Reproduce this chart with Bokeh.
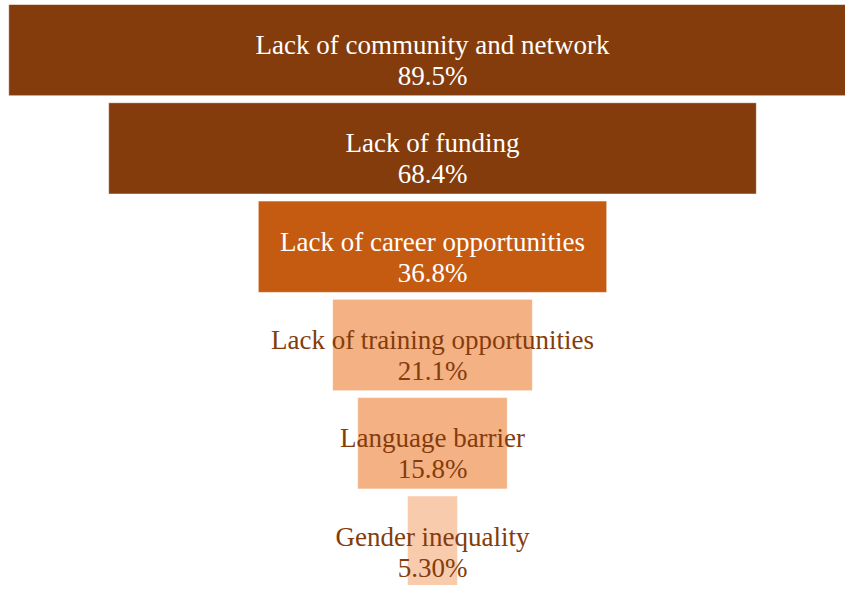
from bokeh.plotting import figure
from bokeh.models import ColumnDataSource, Range1d
from bokeh.core.properties import value
from bokeh.embed import file_html
from bokeh.resources import INLINE

labels = ["Lack of community and network", "Lack of funding", "Lack of career opportunities",
          "Lack of training opportunities", "Language barrier", "Gender inequality"]
values = [89.5, 68.4, 36.8, 21.1, 15.8, 5.3]
pct_labels = ["89.5%", "68.4%", "36.8%", "21.1%", "15.8%", "5.30%"]
bar_colors = ["#843C0C", "#843C0C", "#C55A11", "#F4B183", "#F4B183", "#F8CBAD"]
text_colors = ["#FFFFFF", "#FFFFFF", "#FFFFFF", "#843C0C", "#843C0C", "#843C0C"]

W, H = 845, 585
px_per_unit_x = 9.47
center_px = 432  # frame offset of funnel center
px_per_row = 98.3
first_center_px = 49.6  # frame offset of the first bar's center

idx = list(range(len(values)))
src = ColumnDataSource(dict(
    y=idx,
    left=[-v / 2 for v in values],
    right=[v / 2 for v in values],
    color=bar_colors,
    tcolor=text_colors,
    label=labels,
    pct=pct_labels,
    ylab=[i - 5 / px_per_row for i in idx],
    ypct=[i + 26 / px_per_row for i in idx],
))

p = figure(width=W, height=H, output_backend="svg", toolbar_location=None,
           x_range=Range1d(-center_px / px_per_unit_x, (W - center_px) / px_per_unit_x),
           y_range=Range1d((H - first_center_px) / px_per_row, -first_center_px / px_per_row),
           min_border=0, min_border_left=0, min_border_right=0,
           min_border_top=0, min_border_bottom=0)
p.axis.visible = False
p.grid.visible = False
p.outline_line_color = None
p.background_fill_color = "white"
p.border_fill_color = "white"

p.hbar(y="y", left="left", right="right", height=0.93, source=src,
       fill_color="color", line_color="white", line_alpha=0.6, line_width=1)

p.text(x=0, y="ylab", text="label", source=src, text_color="tcolor",
       text_font=value("Liberation Serif"), text_font_size="27px",
       text_align="center", text_baseline="alphabetic")
p.text(x=0, y="ypct", text="pct", source=src, text_color="tcolor",
       text_font=value("Liberation Serif"), text_font_size="27px",
       text_align="center", text_baseline="alphabetic")

open("out.html", "w").write(file_html(p, INLINE))
